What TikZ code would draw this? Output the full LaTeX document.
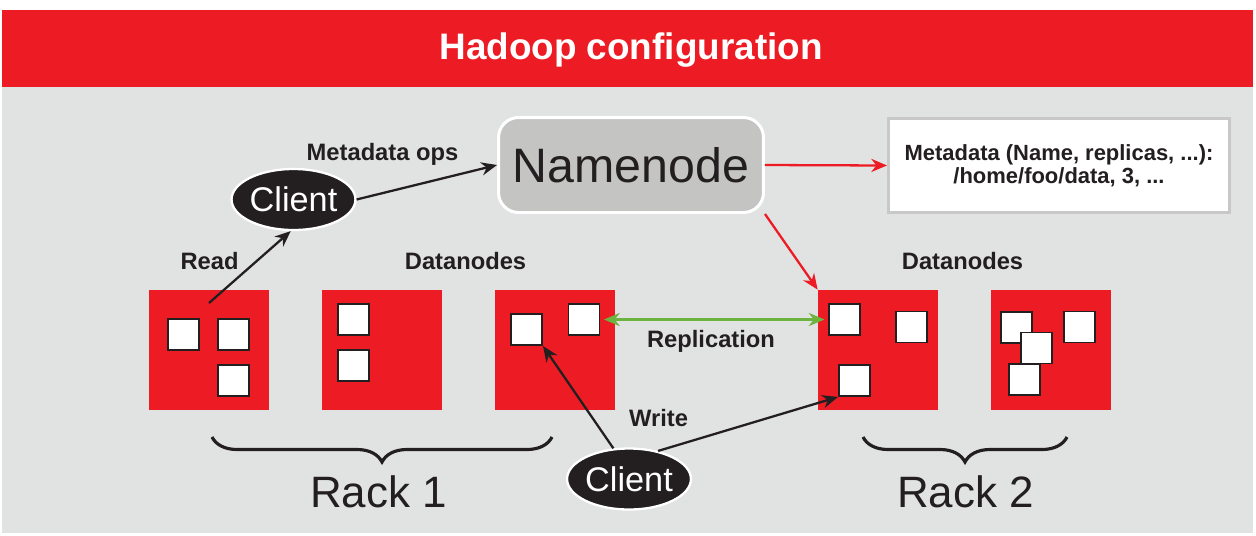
\documentclass[tikz,border=0pt]{standalone}
\usepackage{fontspec}
\setmainfont{Liberation Sans}
\usetikzlibrary{arrows.meta,shapes.geometric,decorations.pathreplacing}
\definecolor{hred}{HTML}{ED1C24}
\definecolor{bgray}{HTML}{E1E3E2}
\definecolor{ngray}{HTML}{C4C4C3}
\definecolor{lgray}{HTML}{C8C8C8}
\definecolor{ink}{HTML}{231F20}
\definecolor{repl}{HTML}{6CB33F}

\begin{document}
\begin{tikzpicture}[x=0.02cm, y=-0.02cm,
  rack/.style = {fill=hred, minimum size=2.4cm, inner sep=0},
  blk/.style = {draw=ink, line width=1.1pt, fill=white, minimum size=0.62cm, inner sep=0},
  client/.style = {ellipse, fill=ink, draw=white, line width=1.3pt, minimum width=2.46cm, minimum height=1.22cm, inner sep=0, text=white, font=\fontsize{19.5}{22}\selectfont},
  lbl/.style = {anchor=base, text=ink, font=\bfseries\fontsize{13.5}{16}\selectfont},
  racklbl/.style = {anchor=base, text=ink, font=\fontsize{25}{28}\selectfont},
  arr/.style = {draw=ink, line width=1.3pt, -{Stealth[length=9pt,width=7.5pt]}},
  redarr/.style = {draw=hred, line width=1.3pt, -{Stealth[length=9pt,width=7.5pt]}},
  brc/.style = {draw=ink, line width=1.8pt, decorate, decoration={brace, amplitude=0.5cm}}]
\fill[white] (0,0) rectangle (1256,535);
\useasboundingbox (0,0) rectangle (1256,535);
\fill[bgray] (2,87) rectangle (1253,533);
\fill[hred] (2,10) rectangle (1253,87);
\node[anchor=base, text=white, font=\bfseries\fontsize{21}{24}\selectfont] (title) at (631,59) {Hadoop configuration};

\node[rectangle, rounded corners=0.4cm, fill=ngray, draw=white, line width=1.7pt, minimum width=5.3cm, minimum height=1.9cm, text=ink, font=\fontsize{27.5}{30}\selectfont] (nn) at (631,165) {Namenode};
\node[rectangle, fill=white, draw=lgray, line width=1.7pt, minimum width=6.82cm, minimum height=1.88cm, align=center, text=ink, font=\bfseries\fontsize{12.5}{13}\selectfont] (meta) at (1059,165.5) {Metadata (Name, replicas, ...):\\/home/foo/data, 3, ...};
\node[client] (c1) at (293.5,199.5) {Client};
\node[client] (c2) at (629,479) {Client};

\node[rack] (r1) at (209,350) {};
\node[rack] (r2) at (382,350) {};
\node[rack] (r3) at (555,350) {};
\node[rack] (r4) at (878,350) {};
\node[rack] (r5) at (1051,350) {};

\node[blk] (b1a) at (183.5,334.5) {};
\node[blk] (b1b) at (233.5,334.5) {};
\node[blk] (b1c) at (233.5,380.5) {};
\node[blk] (b2a) at (353.5,319.5) {};
\node[blk] (b2b) at (353.5,365.5) {};
\node[blk] (b3a) at (526.5,329.5) {};
\node[blk] (b3b) at (584,319.5) {};
\node[blk] (b4a) at (844.5,319.5) {};
\node[blk] (b4b) at (911.5,327) {};
\node[blk] (b4c) at (854.5,380.5) {};
\node[blk] (b5a) at (1016.5,327.5) {};
\node[blk] (b5b) at (1036.5,348) {};
\node[blk] (b5d) at (1024.5,379.5) {};
\node[blk] (b5c) at (1079.5,327) {};

\node[lbl] (ops) at (382.5,160.5) {Metadata ops};
\node[lbl] (read) at (209.5,269) {Read};
\node[lbl] (dn1) at (465.5,269) {Datanodes};
\node[lbl] (dn2) at (962.5,269) {Datanodes};
\node[lbl] (rep) at (711,347) {Replication};
\node[lbl] (wr) at (658.5,426) {Write};
\node[racklbl] (k1) at (378.5,507) {Rack 1};
\node[racklbl] (k2) at (965.5,507) {Rack 2};

\coordinate (rd) at (209,303);
\draw[arr] (rd) -- (c1.265);
\draw[arr] (c1.east) -- (nn.west);
\draw[redarr] (nn.east) -- (meta.west);
\draw[redarr] (nn.south east) -- (r4.north west);
\draw[draw=repl, line width=1.3pt, {Stealth[length=9pt,width=7.5pt]}-{Stealth[length=9pt,width=7.5pt]}, shorten <=2pt, shorten >=2pt] (b3b.east) -- (b4a.west);
\draw[arr] (c2.117) -- (b3a.south east);
\draw[arr] (c2.44) -- (b4c.south west);

\draw[brc] (552,437) -- (212,437);
\draw[brc] (1067,437) -- (863,437);
\end{tikzpicture}
\end{document}
